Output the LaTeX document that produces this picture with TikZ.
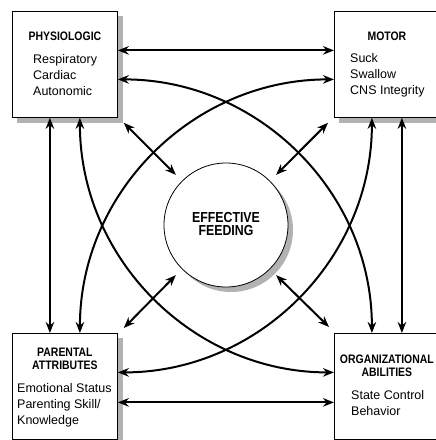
\documentclass[tikz,border=0pt]{standalone}
\usepackage{fontspec}
\setmainfont{Liberation Sans}
\newfontfamily\headfont{Liberation Sans}[FakeStretch=0.85]
\usetikzlibrary{arrows.meta,backgrounds}

\begin{document}
\begin{tikzpicture}[x=1pt,y=1pt]
\tikzstyle{shade}=[fill=black!30]
\tikzstyle{box}=[draw, line width=0.8pt, fill=white,
  minimum width=105pt, minimum height=106pt, anchor=north west, inner sep=0pt]
\tikzstyle{head}=[font=\headfont\bfseries\fontsize{12.3}{12.5}\selectfont,
  align=center, anchor=north, inner sep=0pt]
\tikzstyle{body}=[font=\fontsize{12.5}{16}\selectfont,
  align=left, anchor=north west, inner sep=0pt]
\tikzstyle{link}=[line width=2pt,
  {Stealth[length=11pt,width=8.5pt]}-{Stealth[length=11pt,width=8.5pt]}]
\useasboundingbox (0,0) rectangle (436,-440);
\node[box] (phys) at (12,-11) {};
\node[box] (motor) at (334,-11) {};
\node[box] (par) at (12,-333) {};
\node[box] (org) at (334,-333) {};
\node[draw, circle, line width=0.8pt, fill=white,
  minimum size=124pt] (feed) at (226,-225) {};
\begin{scope}[on background layer]
\fill[shade] ([shift={(5pt,-5pt)}]phys.south west) rectangle ([shift={(5pt,-5pt)}]phys.north east);
\fill[shade] ([shift={(5pt,-5pt)}]motor.south west) rectangle ([shift={(5pt,-5pt)}]motor.north east);
\fill[shade] ([shift={(5pt,-5pt)}]par.south west) rectangle ([shift={(5pt,-5pt)}]par.north east);
\fill[shade] ([shift={(5pt,-5pt)}]feed.center) circle (62pt);
\end{scope}
\node[head, anchor=center, font=\headfont\bfseries\fontsize{14.5}{13.5}\selectfont]
  (feedtext) at ([yshift=1pt]feed.center) {EFFECTIVE\\FEEDING};
\node[head] (physhead) at ([yshift=-21pt]phys.north) {PHYSIOLOGIC};
\node[body] (physbody) at ([shift={(21pt,-43pt)}]phys.north west)
  {Respiratory\\Cardiac\\Autonomic};
\node[head] (motorhead) at ([yshift=-21pt]motor.north) {MOTOR};
\node[body] (motorbody) at ([shift={(16pt,-42pt)}]motor.north west)
  {Suck\\Swallow\\CNS Integrity};
\node[head] (parhead) at ([yshift=-15pt]par.north) {PARENTAL\\ATTRIBUTES};
\node[body] (parbody) at ([shift={(5pt,-50pt)}]par.north west)
  {Emotional Status\\Parenting Skill/\\Knowledge};
\node[head] (orghead) at ([yshift=-22pt]org.north) {ORGANIZATIONAL\\ABILITIES};
\node[body] (orgbody) at ([shift={(17pt,-57pt)}]org.north west)
  {State Control\\Behavior};
\draw[link] ([yshift=14pt]phys.east) -- ([yshift=14pt]motor.west);
\draw[link] ([yshift=-16pt]par.east) -- ([yshift=-16pt]org.west);
\draw[link] ([xshift=-15pt]phys.south) -- ([xshift=-15pt]par.north);
\draw[link] ([xshift=15pt]motor.south) -- ([xshift=15pt]org.north);
\draw[link] ([yshift=-15pt]phys.east) to[out=0,in=90] ([xshift=-15pt]org.north);
\draw[link] ([yshift=-15pt]motor.west) to[out=180,in=90] ([xshift=15pt]par.north);
\draw[link] ([xshift=15pt]phys.south) to[out=-90,in=180] ([yshift=14pt]org.west);
\draw[link] ([yshift=14pt]par.east) to[out=0,in=-90] ([xshift=-15pt]motor.south);
\draw[link] ([shift={(6pt,-5pt)}]phys.south east) -- ([shift={(-6pt,6pt)}]feed.north west);
\draw[link] ([shift={(-6pt,-5pt)}]motor.south west) -- ([shift={(6pt,6pt)}]feed.north east);
\draw[link] ([shift={(6pt,5pt)}]par.north east) -- ([shift={(-6pt,-6pt)}]feed.south west);
\draw[link] ([shift={(-5pt,6pt)}]org.north west) -- ([shift={(6pt,-6pt)}]feed.south east);
\end{tikzpicture}
\end{document}
